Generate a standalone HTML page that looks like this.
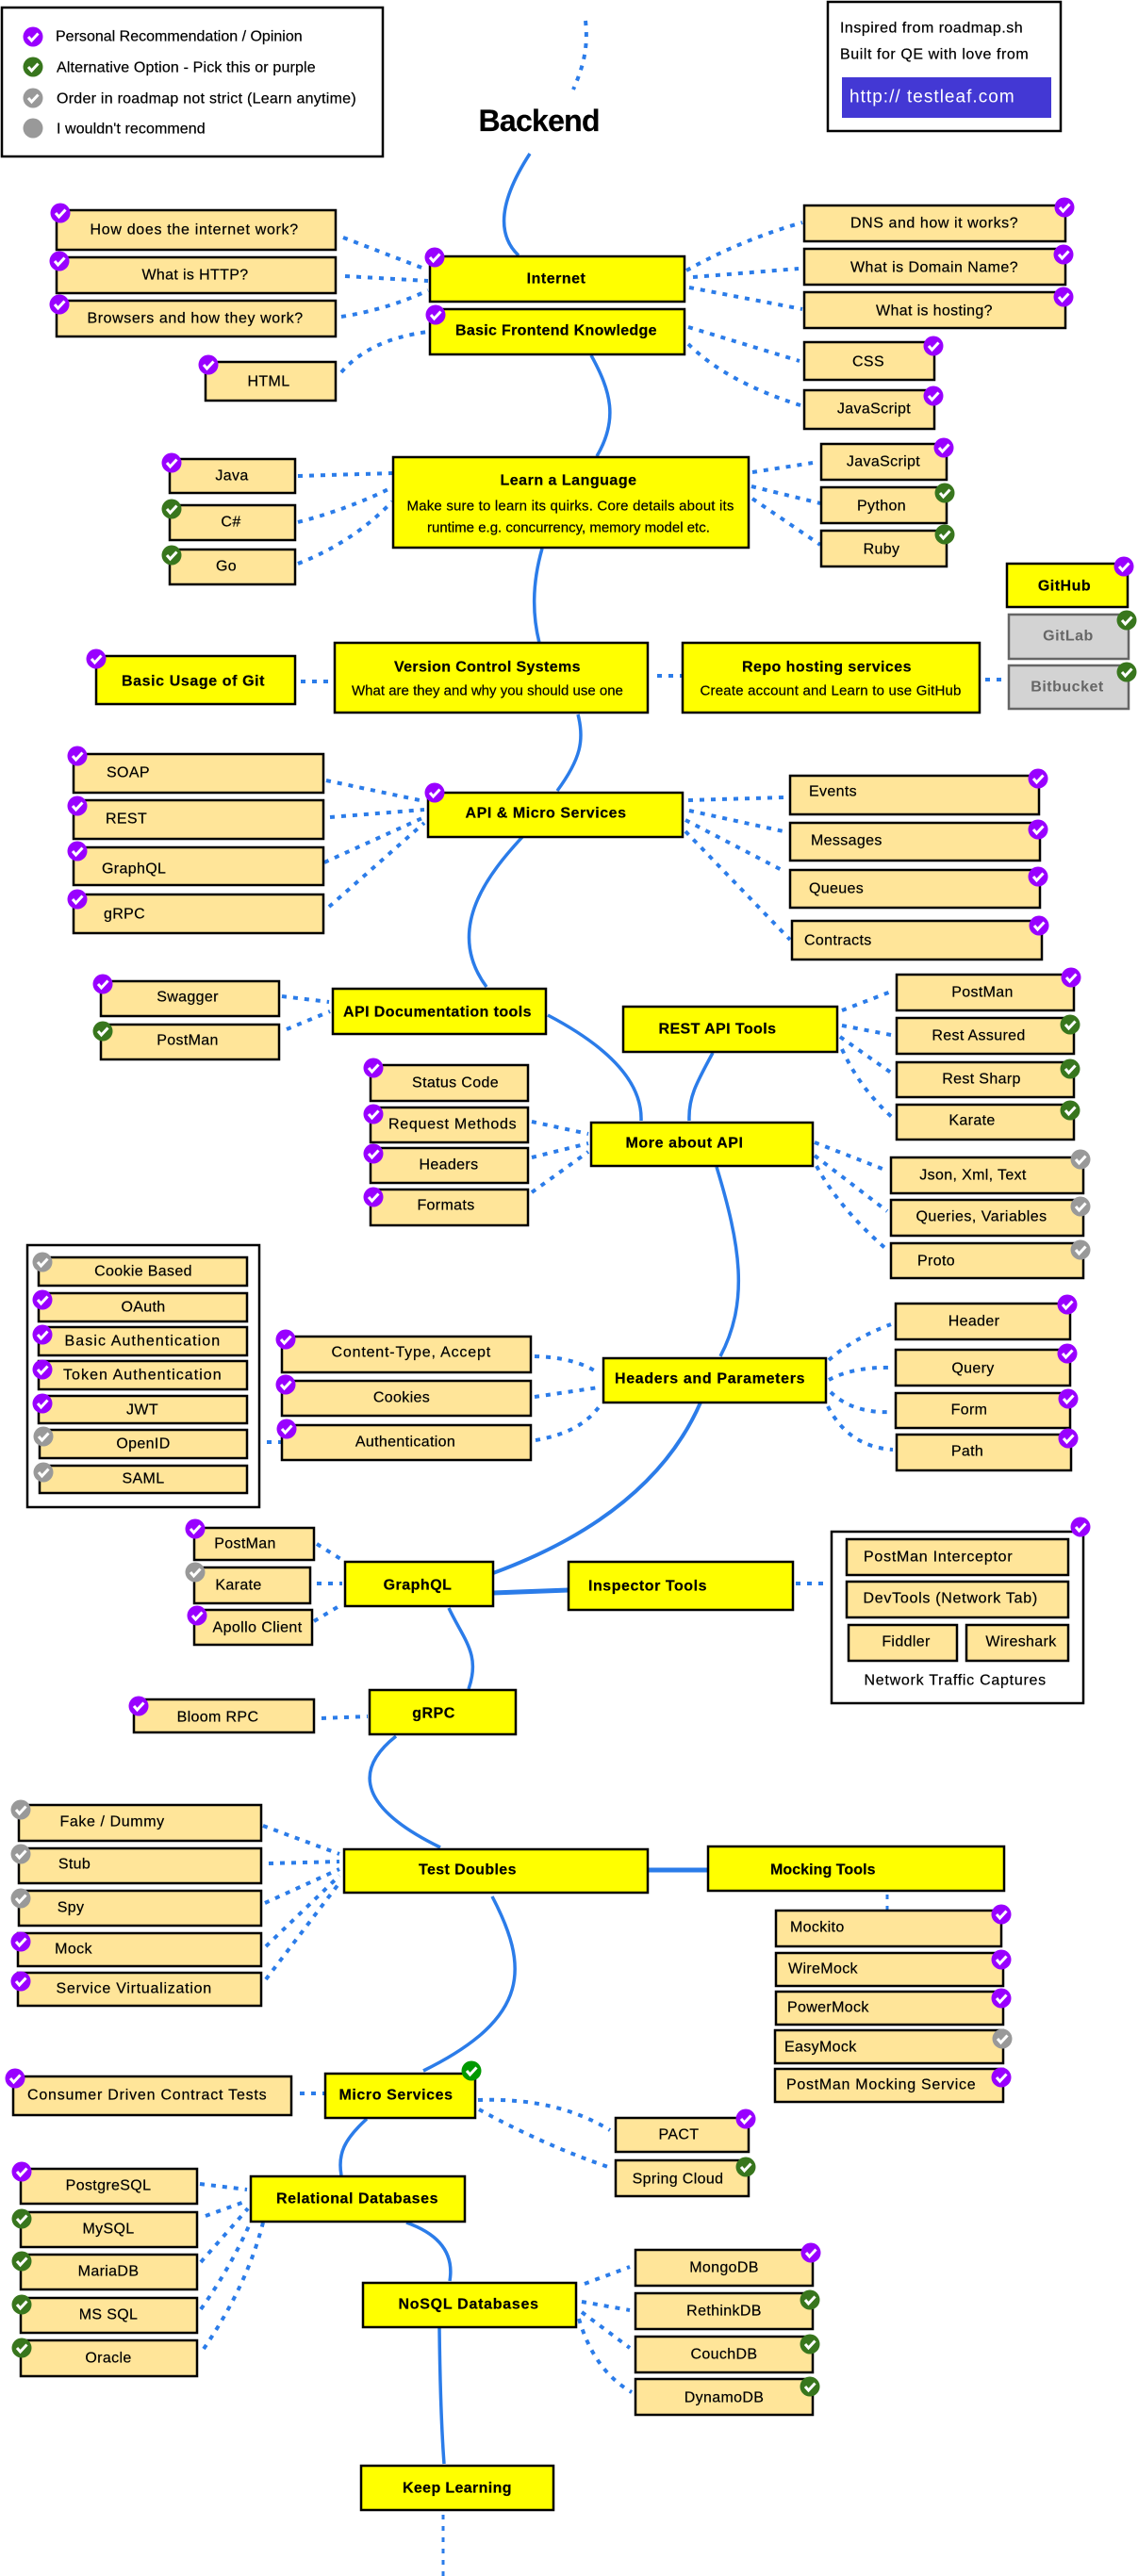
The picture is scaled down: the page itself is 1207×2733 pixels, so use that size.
<!DOCTYPE html>
<html><head><meta charset="utf-8"><style>
html,body{margin:0;padding:0;background:#fff}
svg{display:block}
text{font-family:"Liberation Sans",sans-serif;font-size:16px;fill:#000;stroke:#000;stroke-width:.2px;text-anchor:middle;dominant-baseline:central;letter-spacing:.35px;transform:translateY(1px)}
.b{font-weight:bold;letter-spacing:.5px}
.l{text-anchor:start}
.s{font-size:15px;letter-spacing:.1px}
.d{fill:none;stroke:#2b7ce9;stroke-width:4;stroke-dasharray:5 7}
.c{fill:none;stroke:#2b7ce9;stroke-width:3.5}
.n,.y,.w,.g{stroke:#000;stroke-width:2.5}
.n{fill:#ffe599}.y{fill:#ff0}.w{fill:#fff}
.g{fill:#d3d3d3;stroke:#666}
</style></head><body>
<svg width="1207" height="2733" viewBox="0 0 1207 2733" xmlns="http://www.w3.org/2000/svg">
<defs>
<g id="p"><circle r="10.5" fill="#9900ff"/><path d="M-5 0-1.5 4 5.5-3.5" fill="none" stroke="#fff" stroke-width="3"/></g>
<g id="e"><circle r="10.5" fill="#38761d"/><path d="M-5 0-1.5 4 5.5-3.5" fill="none" stroke="#fff" stroke-width="3"/></g>
<g id="a"><circle r="10.5" fill="#999"/><path d="M-5 0-1.5 4 5.5-3.5" fill="none" stroke="#fff" stroke-width="3"/></g>
<g id="m"><circle r="10.5" fill="#009900"/><path d="M-5 0-1.5 4 5.5-3.5" fill="none" stroke="#fff" stroke-width="3"/></g>
</defs>

<!-- solid connectors -->
<path class="c" d="M562 163Q514 237 550 271"/>
<path class="c" d="M627 377C648 415 656 445 633 484"/>
<path class="c" d="M575 582Q560 634 572 682"/>
<path class="c" d="M613 758C620 785 616 805 591 839"/>
<path class="c" d="M554 888C520 925 470 985 516 1047"/>
<path class="c" d="M581 1077Q682 1130 680 1189"/>
<path class="c" d="M756 1117C738 1150 730 1165 731 1189"/>
<path class="c" d="M760 1238C785 1320 795 1380 764 1439"/>
<path class="c" d="M743 1488Q691 1607 523 1669" style="stroke-width:4"/>
<path class="c" d="M523 1690 603 1687" style="stroke-width:5"/>
<path class="c" d="M476 1706C492 1740 510 1755 497 1792"/>
<path class="c" d="M420 1842C372 1880 385 1920 467 1960"/>
<path class="c" d="M687 1984H751" style="stroke-width:5"/>
<path class="c" d="M522 2012C560 2085 565 2140 449 2197"/>
<path class="c" d="M389 2248C365 2270 358 2285 362 2308"/>
<path class="c" d="M431 2358C465 2370 482 2390 477 2420"/>
<path class="c" d="M466 2470Q467 2560 471 2614"/>

<!-- dotted connectors -->
<g class="d">
<path d="M621 22C624 50 619 70 608 95"/>
<path d="M364 252 450 285"/><path d="M366 293 454 298"/><path d="M362 336Q412 328 454 308"/><path d="M362 395Q392 360 454 352"/>
<path d="M728 287Q785 255 851 236"/><path d="M735 294 847 285"/><path d="M731 305 851 328"/><path d="M730 347 848 383"/><path d="M730 365Q770 405 849 430"/>
<path d="M316 505 416 502"/><path d="M316 554Q370 540 416 517"/><path d="M316 598Q375 575 416 532"/>
<path d="M798 501 862 491"/><path d="M797 516 870 534"/><path d="M798 529 870 578"/>
<path d="M319 723H350"/><path d="M697 717H724"/><path d="M1045 721H1072"/>
<path d="M346 828 450 850"/><path d="M350 867 450 859"/><path d="M344 915 450 867"/><path d="M349 962 450 873"/>
<path d="M730 849 831 846"/><path d="M731 860 831 882"/><path d="M727 870 833 925"/><path d="M727 882 838 997"/>
<path d="M299 1057 349 1063"/><path d="M304 1092 350 1073"/>
<path d="M893 1072 945 1052"/><path d="M893 1088 945 1098"/><path d="M891 1100 945 1138"/><path d="M893 1113Q912 1155 947 1186"/>
<path d="M564 1190 624 1203"/><path d="M564 1228 624 1213"/><path d="M564 1265 624 1222"/>
<path d="M864 1212 941 1242"/><path d="M864 1226 941 1285"/><path d="M866 1237Q890 1282 941 1326"/>
<path d="M283 1530H299"/>
<path d="M567 1439Q610 1440 635 1457"/><path d="M567 1482 635 1472"/><path d="M568 1528Q615 1520 635 1493"/>
<path d="M879 1443Q905 1420 945 1405"/><path d="M879 1464Q905 1450 945 1451"/><path d="M881 1477Q905 1500 947 1498"/><path d="M878 1492Q900 1535 947 1538"/>
<path d="M336 1638 363 1655"/><path d="M336 1680H363"/><path d="M333 1720 363 1702"/>
<path d="M844 1680H880"/>
<path d="M341 1823 390 1821"/>
<path d="M279 1937 360 1967"/><path d="M285 1977 360 1975"/><path d="M281 2019 360 1983"/><path d="M282 2065 360 1990"/><path d="M282 2100 362 1995"/>
<path d="M941 2010V2027" style="stroke-width:3"/>
<path d="M318 2221H346"/>
<path d="M507 2228Q590 2225 647 2260"/><path d="M508 2238Q575 2275 645 2299"/>
<path d="M212 2317 262 2323"/><path d="M218 2351 262 2335"/><path d="M213 2400 263 2343"/><path d="M213 2450Q245 2405 266 2357"/><path d="M216 2492Q262 2425 279 2358"/>
<path d="M620 2423 668 2405"/><path d="M617 2442 668 2451"/><path d="M617 2453 668 2491"/><path d="M614 2460Q630 2515 670 2538"/>
<path d="M470 2668V2733" style="stroke-width:3"/>
</g>

<!-- legend -->
<rect class="w" x="2" y="8" width="404" height="158"/>
<text class="l" x="59" y="38" textLength="262">Personal Recommendation / Opinion</text>
<text class="l" x="60" y="71" textLength="275">Alternative Option - Pick this or purple</text>
<text class="l" x="60" y="104" textLength="318">Order in roadmap not strict (Learn anytime)</text>
<text class="l" x="60" y="136" textLength="158">I wouldn't recommend</text>
<use href="#p" x="35" y="39"/><use href="#e" x="35" y="71"/><use href="#a" x="35" y="104"/><circle cx="35" cy="136" r="10.5" fill="#999"/>

<!-- credit -->
<rect class="w" x="878" y="2" width="247" height="137"/>
<text class="l" x="891" y="29" textLength="194">Inspired from roadmap.sh</text>
<text class="l" x="891" y="57" textLength="200">Built for QE with love from</text>
<rect x="893" y="82" width="222" height="43" fill="#4338d4"/>
<text class="l" x="901" y="102" textLength="175" style="fill:#fff;stroke:none;font-size:19px">http:// testleaf.com</text>

<text x="572" y="127" class="b" style="font-size:32px;letter-spacing:0" textLength="129">Backend</text>

<!-- Boxes -->
<rect class="y" x="456" y="272" width="270" height="48"/><text class="b" x="590" y="295">Internet</text>
<rect class="y" x="456" y="328" width="270" height="48"/><text class="b" x="590" y="350" textLength="214">Basic Frontend Knowledge</text>
<rect class="n" x="60" y="223" width="296" height="42"/><text x="206" y="243" textLength="221">How does the internet work?</text>
<rect class="n" x="60" y="273" width="296" height="38"/><text x="207" y="291">What is HTTP?</text>
<rect class="n" x="60" y="319" width="296" height="38"/><text x="207" y="337" textLength="229">Browsers and how they work?</text>
<rect class="n" x="218" y="384" width="138" height="41"/><text x="285" y="404">HTML</text>
<rect class="n" x="853" y="218" width="277" height="38"/><text x="991" y="236" textLength="178">DNS and how it works?</text>
<rect class="n" x="853" y="264" width="277" height="38"/><text x="991" y="283" textLength="178">What is Domain Name?</text>
<rect class="n" x="853" y="310" width="277" height="38"/><text x="991" y="329">What is hosting?</text>
<rect class="n" x="853" y="363" width="138" height="40"/><text x="921" y="383">CSS</text>
<rect class="n" x="853" y="414" width="138" height="41"/><text x="927" y="433">JavaScript</text>

<rect class="y" x="417" y="485" width="377" height="96"/>
<text class="b" x="603" y="509" textLength="145">Learn a Language</text>
<text class="s" x="605" y="536" textLength="347">Make sure to learn its quirks. Core details about its</text>
<text class="s" x="603" y="559" textLength="300">runtime e.g. concurrency, memory model etc.</text>
<rect class="n" x="180" y="487" width="133" height="36"/><text x="246" y="504">Java</text>
<rect class="n" x="180" y="536" width="133" height="37"/><text x="245" y="553">C#</text>
<rect class="n" x="180" y="583" width="133" height="37"/><text x="240" y="600">Go</text>
<rect class="n" x="871" y="471" width="133" height="38"/><text x="937" y="489">JavaScript</text>
<rect class="n" x="871" y="517" width="133" height="38"/><text x="935" y="536">Python</text>
<rect class="n" x="871" y="563" width="133" height="38"/><text x="935" y="582">Ruby</text>

<rect class="y" x="1068" y="598" width="128" height="46"/><text class="b" x="1129" y="621">GitHub</text>
<rect class="g" x="1070" y="652" width="127" height="47"/><text class="b" x="1133" y="674" style="fill:#666;stroke:none">GitLab</text>
<rect class="g" x="1070" y="706" width="127" height="46"/><text class="b" x="1132" y="728" style="fill:#666;stroke:none">Bitbucket</text>

<rect class="y" x="355" y="682" width="332" height="74"/>
<text class="b" x="517" y="707" textLength="198">Version Control Systems</text>
<text class="s" x="517" y="732" textLength="288">What are they and why you should use one</text>
<rect class="y" x="724" y="682" width="315" height="74"/>
<text class="b" x="877" y="707" textLength="180">Repo hosting services</text>
<text class="s" x="881" y="732" textLength="277">Create account and Learn to use GitHub</text>
<rect class="y" x="102" y="696" width="211" height="51"/><text class="b" x="205" y="722" textLength="152">Basic Usage of Git</text>

<rect class="y" x="454" y="841" width="270" height="47"/><text class="b" x="579" y="862" textLength="171">API &amp; Micro Services</text>
<rect class="n" x="78" y="800" width="265" height="41"/><text class="l" x="113" y="819">SOAP</text>
<rect class="n" x="78" y="849" width="265" height="41"/><text class="l" x="112" y="868">REST</text>
<rect class="n" x="78" y="899" width="265" height="40"/><text class="l" x="108" y="921">GraphQL</text>
<rect class="n" x="78" y="949" width="265" height="41"/><text class="l" x="110" y="969">gRPC</text>
<rect class="n" x="838" y="823" width="264" height="41"/><text class="l" x="858" y="839">Events</text>
<rect class="n" x="838" y="873" width="265" height="40"/><text class="l" x="860" y="891">Messages</text>
<rect class="n" x="838" y="923" width="265" height="40"/><text class="l" x="858" y="942">Queues</text>
<rect class="n" x="840" y="977" width="265" height="41"/><text class="l" x="853" y="997">Contracts</text>

<rect class="y" x="353" y="1049" width="226" height="48"/><text class="b" x="464" y="1073" textLength="200">API Documentation tools</text>
<rect class="n" x="107" y="1041" width="189" height="37"/><text x="199" y="1057">Swagger</text>
<rect class="n" x="107" y="1087" width="189" height="37"/><text x="199" y="1103">PostMan</text>
<rect class="y" x="661" y="1068" width="227" height="48"/><text class="b" x="761" y="1091" textLength="125">REST API Tools</text>
<rect class="n" x="951" y="1034" width="188" height="38"/><text x="1042" y="1052">PostMan</text>
<rect class="n" x="951" y="1080" width="188" height="38"/><text x="1038" y="1098">Rest Assured</text>
<rect class="n" x="951" y="1127" width="188" height="37"/><text x="1041" y="1144">Rest Sharp</text>
<rect class="n" x="951" y="1172" width="188" height="37"/><text x="1031" y="1188">Karate</text>
<rect class="y" x="627" y="1191" width="235" height="46"/><text class="b" x="726" y="1212" textLength="125">More about API</text>
<rect class="n" x="393" y="1130" width="167" height="38"/><text x="483" y="1148">Status Code</text>
<rect class="n" x="393" y="1175" width="167" height="37"/><text x="480" y="1192" textLength="136">Request Methods</text>
<rect class="n" x="393" y="1218" width="167" height="37"/><text x="476" y="1235">Headers</text>
<rect class="n" x="393" y="1262" width="167" height="38"/><text x="473" y="1278">Formats</text>
<rect class="n" x="945" y="1228" width="204" height="38"/><text x="1032" y="1246">Json, Xml, Text</text>
<rect class="n" x="945" y="1273" width="204" height="38"/><text x="1041" y="1290" textLength="139">Queries, Variables</text>
<rect class="n" x="945" y="1319" width="204" height="37"/><text x="993" y="1337">Proto</text>

<rect class="w" x="29" y="1321" width="246" height="278"/>
<rect class="n" x="41" y="1334" width="221" height="30"/><text x="152" y="1348">Cookie Based</text>
<rect class="n" x="41" y="1372" width="221" height="30"/><text x="152" y="1386">OAuth</text>
<rect class="n" x="41" y="1408" width="221" height="30"/><text x="151" y="1422" textLength="165">Basic Authentication</text>
<rect class="n" x="41" y="1444" width="221" height="30"/><text x="151" y="1458" textLength="168">Token Authentication</text>
<rect class="n" x="41" y="1481" width="221" height="29"/><text x="151" y="1495">JWT</text>
<rect class="n" x="42" y="1517" width="220" height="30"/><text x="152" y="1531">OpenID</text>
<rect class="n" x="42" y="1555" width="220" height="29"/><text x="152" y="1568">SAML</text>

<rect class="n" x="299" y="1418" width="264" height="38"/><text x="436" y="1434" textLength="169">Content-Type, Accept</text>
<rect class="n" x="299" y="1465" width="264" height="37"/><text x="426" y="1482">Cookies</text>
<rect class="n" x="299" y="1512" width="264" height="37"/><text x="430" y="1529">Authentication</text>
<rect class="y" x="640" y="1441" width="236" height="47"/><text class="b" x="753" y="1462" textLength="202">Headers and Parameters</text>
<rect class="n" x="950" y="1383" width="185" height="38"/><text x="1033" y="1401">Header</text>
<rect class="n" x="950" y="1432" width="185" height="38"/><text x="1032" y="1451">Query</text>
<rect class="n" x="950" y="1478" width="185" height="37"/><text x="1028" y="1495">Form</text>
<rect class="n" x="951" y="1522" width="185" height="38"/><text x="1026" y="1539">Path</text>

<rect class="y" x="366" y="1657" width="157" height="47"/><text class="b" x="443" y="1681">GraphQL</text>
<rect class="y" x="603" y="1657" width="238" height="51"/><text class="b" x="687" y="1682" textLength="126">Inspector Tools</text>
<rect class="n" x="206" y="1621" width="127" height="34"/><text x="260" y="1637">PostMan</text>
<rect class="n" x="206" y="1663" width="123" height="38"/><text x="253" y="1681">Karate</text>
<rect class="n" x="206" y="1708" width="125" height="37"/><text x="273" y="1726" textLength="95">Apollo Client</text>

<rect class="w" x="882" y="1625" width="267" height="182"/>
<rect class="n" x="898" y="1633" width="235" height="38"/><text x="995" y="1651" textLength="158">PostMan Interceptor</text>
<rect class="n" x="898" y="1678" width="235" height="38"/><text x="1008" y="1695" textLength="185">DevTools (Network Tab)</text>
<rect class="n" x="900" y="1724" width="115" height="38"/><text x="961" y="1741">Fiddler</text>
<rect class="n" x="1025" y="1724" width="108" height="38"/><text x="1083" y="1741">Wireshark</text>
<text x="1013" y="1782" textLength="193">Network Traffic Captures</text>

<rect class="y" x="392" y="1793" width="155" height="47"/><text class="b" x="460" y="1817">gRPC</text>
<rect class="n" x="142" y="1803" width="191" height="35"/><text x="231" y="1821">Bloom RPC</text>

<rect class="y" x="365" y="1962" width="322" height="46"/><text class="b" x="496" y="1983" textLength="104">Test Doubles</text>
<rect class="y" x="751" y="1959" width="314" height="47"/><text class="b" x="873" y="1983" textLength="112">Mocking Tools</text>
<rect class="n" x="20" y="1915" width="257" height="38"/><text x="119" y="1932" textLength="111">Fake / Dummy</text>
<rect class="n" x="20" y="1961" width="257" height="37"/><text x="79" y="1977">Stub</text>
<rect class="n" x="20" y="2006" width="257" height="37"/><text x="75" y="2023">Spy</text>
<rect class="n" x="19" y="2051" width="258" height="35"/><text x="78" y="2067">Mock</text>
<rect class="n" x="19" y="2093" width="258" height="35"/><text x="142" y="2109" textLength="165">Service Virtualization</text>
<rect class="n" x="823" y="2027" width="239" height="38"/><text class="l" x="838" y="2044">Mockito</text>
<rect class="n" x="823" y="2072" width="241" height="35"/><text class="l" x="836" y="2088">WireMock</text>
<rect class="n" x="823" y="2113" width="241" height="35"/><text class="l" x="835" y="2129">PowerMock</text>
<rect class="n" x="822" y="2154" width="242" height="35"/><text class="l" x="832" y="2171">EasyMock</text>
<rect class="n" x="822" y="2195" width="242" height="35"/><text class="l" x="834" y="2211" textLength="201">PostMan Mocking Service</text>

<rect class="y" x="345" y="2200" width="159" height="47"/><text class="b" x="420" y="2222" textLength="121">Micro Services</text>
<rect class="n" x="14" y="2203" width="295" height="41"/><text x="156" y="2222" textLength="254">Consumer Driven Contract Tests</text>
<rect class="n" x="653" y="2247" width="141" height="36"/><text x="720" y="2264">PACT</text>
<rect class="n" x="653" y="2292" width="141" height="38"/><text x="719" y="2311">Spring Cloud</text>

<rect class="y" x="266" y="2309" width="227" height="48"/><text class="b" x="379" y="2332" textLength="172">Relational Databases</text>
<rect class="n" x="22" y="2301" width="187" height="37"/><text x="115" y="2318">PostgreSQL</text>
<rect class="n" x="22" y="2347" width="187" height="37"/><text x="115" y="2364">MySQL</text>
<rect class="n" x="22" y="2392" width="187" height="37"/><text x="115" y="2409">MariaDB</text>
<rect class="n" x="22" y="2438" width="187" height="37"/><text x="115" y="2455">MS SQL</text>
<rect class="n" x="22" y="2483" width="187" height="38"/><text x="115" y="2501">Oracle</text>

<rect class="y" x="385" y="2422" width="226" height="47"/><text class="b" x="497" y="2444" textLength="149">NoSQL Databases</text>
<rect class="n" x="674" y="2387" width="188" height="38"/><text x="768" y="2405">MongoDB</text>
<rect class="n" x="674" y="2433" width="188" height="38"/><text x="768" y="2451">RethinkDB</text>
<rect class="n" x="674" y="2479" width="188" height="38"/><text x="768" y="2497">CouchDB</text>
<rect class="n" x="674" y="2524" width="188" height="38"/><text x="768" y="2543">DynamoDB</text>
<rect class="y" x="383" y="2616" width="204" height="47"/><text class="b" x="485" y="2639" textLength="116">Keep Learning</text>

<!-- Checks -->
<use href="#p" x="64" y="226"/><use href="#p" x="63" y="277"/><use href="#p" x="63" y="323"/><use href="#p" x="461" y="273"/><use href="#p" x="462" y="334"/><use href="#p" x="221" y="387"/>
<use href="#p" x="1129" y="220"/><use href="#p" x="1128" y="270"/><use href="#p" x="1128" y="315"/><use href="#p" x="990" y="367"/><use href="#p" x="990" y="420"/>
<use href="#p" x="182" y="491"/><use href="#e" x="182" y="540"/><use href="#e" x="182" y="589"/>
<use href="#p" x="1001" y="475"/><use href="#e" x="1002" y="523"/><use href="#e" x="1002" y="567"/>
<use href="#p" x="1192" y="601"/><use href="#e" x="1195" y="658"/><use href="#e" x="1195" y="713"/>
<use href="#p" x="102" y="699"/>
<use href="#p" x="461" y="841"/><use href="#p" x="82" y="802"/><use href="#p" x="82" y="855"/><use href="#p" x="82" y="903"/><use href="#p" x="82" y="954"/>
<use href="#p" x="1101" y="826"/><use href="#p" x="1101" y="880"/><use href="#p" x="1101" y="930"/><use href="#p" x="1102" y="982"/>
<use href="#p" x="109" y="1044"/><use href="#e" x="109" y="1094"/>
<use href="#p" x="1136" y="1037"/><use href="#e" x="1135" y="1087"/><use href="#e" x="1135" y="1134"/><use href="#e" x="1135" y="1178"/>
<use href="#p" x="396" y="1133"/><use href="#p" x="396" y="1182"/><use href="#p" x="396" y="1224"/><use href="#p" x="396" y="1270"/>
<use href="#a" x="1146" y="1230"/><use href="#a" x="1146" y="1280"/><use href="#a" x="1146" y="1326"/>
<use href="#a" x="45" y="1339"/><use href="#p" x="45" y="1379"/><use href="#p" x="45" y="1416"/><use href="#p" x="45" y="1453"/><use href="#p" x="45" y="1489"/><use href="#a" x="46" y="1524"/><use href="#a" x="46" y="1562"/>
<use href="#p" x="303" y="1421"/><use href="#p" x="303" y="1469"/><use href="#p" x="304" y="1516"/>
<use href="#p" x="1132" y="1384"/><use href="#p" x="1132" y="1436"/><use href="#p" x="1133" y="1484"/><use href="#p" x="1133" y="1526"/>
<use href="#p" x="207" y="1622"/><use href="#a" x="207" y="1668"/><use href="#p" x="209" y="1714"/>
<use href="#p" x="1146" y="1620"/><use href="#p" x="147" y="1810"/>
<use href="#a" x="22" y="1920"/><use href="#a" x="22" y="1967"/><use href="#a" x="22" y="2014"/><use href="#p" x="22" y="2060"/><use href="#p" x="22" y="2102"/>
<use href="#p" x="1062" y="2031"/><use href="#p" x="1062" y="2079"/><use href="#p" x="1062" y="2120"/><use href="#a" x="1063" y="2163"/><use href="#p" x="1062" y="2204"/>
<use href="#m" x="500" y="2197"/><use href="#p" x="16" y="2205"/><use href="#p" x="791" y="2248"/><use href="#e" x="791" y="2299"/>
<use href="#p" x="23" y="2304"/><use href="#e" x="23" y="2354"/><use href="#e" x="23" y="2399"/><use href="#e" x="23" y="2445"/><use href="#e" x="23" y="2491"/>
<use href="#p" x="860" y="2390"/><use href="#e" x="859" y="2440"/><use href="#e" x="859" y="2487"/><use href="#e" x="859" y="2532"/>
</svg>
</body></html>
